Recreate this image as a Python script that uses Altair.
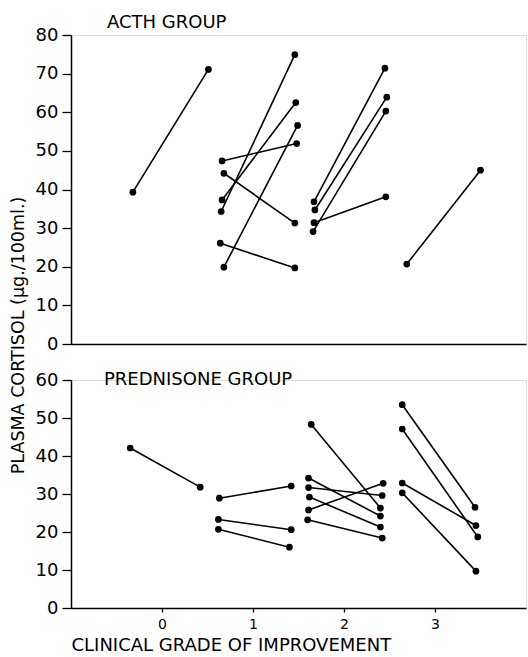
import altair as alt
import pandas as pd

# ---------------- data ----------------
# ACTH group: each patient is a pair of points (before -> after)
acth_x_start = [-0.32, 0.66, 0.68, 0.66, 0.65, 0.64, 0.68, 1.67, 1.68, 1.66, 1.67, 2.69]
acth_x_end   = [0.51, 1.48, 1.46, 1.47, 1.46, 1.46, 1.49, 2.45, 2.47, 2.46, 2.46, 3.50]
acth_start   = [39.3, 47.4, 44.2, 37.3, 34.3, 26.1, 19.9, 36.8, 34.7, 29.1, 31.4, 20.7]
acth_end     = [71.1, 51.9, 31.3, 62.5, 74.9, 19.7, 56.6, 71.4, 63.9, 60.3, 38.1, 45.0]

# Prednisone group
pred_x_start = [-0.35, 0.63, 0.62, 0.62, 1.64, 1.61, 1.61, 1.62, 1.61, 1.60, 2.64, 2.64, 2.64, 2.64]
pred_x_end   = [0.42, 1.42, 1.42, 1.40, 2.40, 2.40, 2.42, 2.40, 2.43, 2.42, 3.44, 3.47, 3.45, 3.45]
pred_start   = [42.1, 28.9, 23.3, 20.7, 48.3, 34.2, 31.7, 29.2, 25.8, 23.2, 53.5, 47.1, 32.9, 30.3]
pred_end     = [31.8, 32.1, 20.6, 16.0, 26.3, 24.2, 29.6, 21.3, 32.8, 18.4, 26.5, 18.7, 21.7, 9.7]

x_ticks = [0, 1, 2, 3]
acth_y_ticks = [0, 10, 20, 30, 40, 50, 60, 70, 80]
pred_y_ticks = [0, 10, 20, 30, 40, 50, 60]

FONT = "DejaVu Sans"


def seg_frame(xs, xe, ys, ye):
    return pd.DataFrame({"x1": xs, "x2": xe, "y1": ys, "y2": ye})


def pt_frame(xs, xe, ys, ye):
    return pd.DataFrame({"x": list(xs) + list(xe), "y": list(ys) + list(ye)})


x_scale = alt.Scale(domain=[-1, 4], nice=False, zero=False)

axis_common = dict(
    grid=False,
    domainColor="black",
    domainWidth=1.5,
    tickColor="black",
    tickWidth=1.3,
    labelColor="black",
    labelFont=FONT,
    titleFont=FONT,
    titleColor="black",
    titleFontWeight="normal",
    labelOverlap=False,
    labelFlush=False,
)

top_x_axis = alt.Axis(labels=False, ticks=False, title=None, **axis_common)
top_y_axis = alt.Axis(values=acth_y_ticks, tickCount=9, tickSize=9, labelPadding=4,
                      labelFontSize=18, format="d",
                      title="PLASMA CORTISOL (µg./100ml.)",
                      titleFontSize=17.5, titleX=-44, titleY=300,
                      **axis_common)
bot_x_axis = alt.Axis(values=x_ticks, tickSize=4, labelPadding=5, format="d",
                      labelFontSize=14,
                      title="CLINICAL GRADE OF IMPROVEMENT",
                      titleFontSize=18, titleAnchor="start", titlePadding=5,
                      **axis_common)
bot_y_axis = alt.Axis(values=pred_y_ticks, tickCount=7, tickSize=9, labelPadding=4,
                      labelFontSize=18, format="d", title=None, **axis_common)

# ---------------- top panel ----------------
acth_seg = seg_frame(acth_x_start, acth_x_end, acth_start, acth_end)
acth_pts = pt_frame(acth_x_start, acth_x_end, acth_start, acth_end)

top_y_scale = alt.Scale(domain=[0, 80], nice=False, zero=True)

top_rules = alt.Chart(acth_seg).mark_rule(color="black", strokeWidth=1.6).encode(
    x=alt.X("x1:Q", scale=x_scale, axis=top_x_axis),
    x2="x2:Q",
    y=alt.Y("y1:Q", scale=top_y_scale, axis=top_y_axis),
    y2="y2:Q",
)
top_pts = alt.Chart(acth_pts).mark_circle(color="black", opacity=1, size=45).encode(
    x=alt.X("x:Q", scale=x_scale, axis=top_x_axis),
    y=alt.Y("y:Q", scale=top_y_scale, axis=top_y_axis),
)
top = alt.layer(top_rules, top_pts).properties(
    width=455, height=309,
    title=alt.TitleParams(text="ACTH GROUP", anchor="start", frame="group", dx=36,
                          dy=14, fontSize=18, font=FONT, fontWeight="normal",
                          color="black", offset=8),
)

# ---------------- bottom panel ----------------
pred_seg = seg_frame(pred_x_start, pred_x_end, pred_start, pred_end)
pred_pts = pt_frame(pred_x_start, pred_x_end, pred_start, pred_end)

bot_y_scale = alt.Scale(domain=[0, 60], nice=False, zero=True)

bot_rules = alt.Chart(pred_seg).mark_rule(color="black", strokeWidth=1.6).encode(
    x=alt.X("x1:Q", scale=x_scale, axis=bot_x_axis),
    x2="x2:Q",
    y=alt.Y("y1:Q", scale=bot_y_scale, axis=bot_y_axis),
    y2="y2:Q",
)
bot_pts = alt.Chart(pred_pts).mark_circle(color="black", opacity=1, size=45).encode(
    x=alt.X("x:Q", scale=x_scale, axis=bot_x_axis),
    y=alt.Y("y:Q", scale=bot_y_scale, axis=bot_y_axis),
)
bottom = alt.layer(bot_rules, bot_pts).properties(
    width=455, height=228,
    title=alt.TitleParams(text="PREDNISONE GROUP", anchor="start", frame="group",
                          dx=33, dy=22, fontSize=18, font=FONT,
                          fontWeight="normal", color="black"),
)

chart = alt.vconcat(top, bottom, spacing=36, bounds="flush").configure_view(
    stroke=None
).configure(
    padding={"left": 8, "top": 13, "right": 0, "bottom": 0},
    background="white",
)

chart.save("out.html", embed_options={"renderer": "svg", "actions": False})
